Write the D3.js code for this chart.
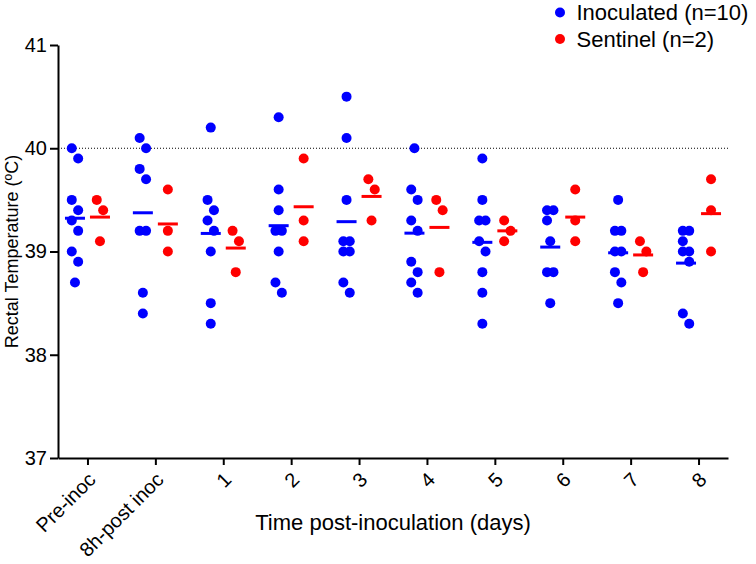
<!DOCTYPE html>
<html>
<head>
<meta charset="utf-8">
<script src="https://cdn.jsdelivr.net/npm/d3@7"></script>
<style>
    body { margin: 0; background: #fff; }
    svg { display: block; font-family: "Liberation Sans", Arial, sans-serif; }
</style>
</head>
<body>
<div id="chart"></div>
<script>
// time points on the x axis
const categories = ["Pre-inoc", "8h-post inoc", "1", "2", "3", "4", "5", "6", "7", "8"];

// rectal temperatures (ºC) per time point
const inoculated = [
    [40.0, 39.9, 39.5, 39.4, 39.3, 39.2, 39.0, 38.9, 38.7],
    [40.1, 40.0, 39.8, 39.7, 39.2, 39.2, 38.6, 38.4],
    [40.2, 39.5, 39.4, 39.3, 39.2, 39.0, 38.5, 38.3],
    [40.3, 39.6, 39.4, 39.2, 39.2, 39.0, 38.7, 38.6],
    [40.5, 40.1, 39.5, 39.1, 39.1, 39.0, 39.0, 38.7, 38.6],
    [40.0, 39.6, 39.5, 39.3, 39.2, 38.9, 38.8, 38.7, 38.6],
    [39.9, 39.5, 39.3, 39.3, 39.1, 39.0, 38.8, 38.6, 38.3],
    [39.4, 39.4, 39.3, 39.1, 38.8, 38.8, 38.5],
    [39.5, 39.2, 39.2, 39.0, 39.0, 38.8, 38.7, 38.5],
    [39.2, 39.2, 39.1, 39.0, 39.0, 38.9, 38.4, 38.3]
];

const sentinel = [
    [39.5, 39.4, 39.1],
    [39.6, 39.2, 39.0],
    [39.2, 39.1, 38.8],
    [39.9, 39.3, 39.1],
    [39.7, 39.6, 39.3],
    [39.5, 39.4, 38.8],
    [39.3, 39.2, 39.1],
    [39.6, 39.3, 39.1],
    [39.1, 39.0, 38.8],
    [39.7, 39.4, 39.0]
];

const yTicks = [37, 38, 39, 40, 41];
const refLine = 40;
const seriesNames = ["Inoculated (n=10)", "Sentinel (n=2)"];

const colors = ["#0000ff", "#ff0000"];
const width = 756, height = 564;
const margin = {top: 45, right: 28, bottom: 106, left: 58};
const r = 5;

let svg = d3.select("#chart").append("svg")
    .attr("width", width)
    .attr("height", height);

// scales
let x = d3.scalePoint()
    .domain(categories)
    .range([margin.left, width - margin.right])
    .padding(0.434);

let y = d3.scaleLinear()
    .domain([37, 41])
    .range([height - margin.bottom, margin.top]);

// dotted reference line at 40
svg.append("line")
    .attr("x1", margin.left)
    .attr("x2", width - margin.right)
    .attr("y1", y(refLine))
    .attr("y2", y(refLine))
    .attr("stroke", "#000")
    .attr("stroke-width", 1.2)
    .attr("stroke-dasharray", "1,2");

// axes
let yAxis = svg.append("g")
    .attr("transform", "translate(" + margin.left + ",0)")
    .call(d3.axisLeft(y).tickValues(yTicks).tickFormat(d3.format("d"))
        .tickSize(8).tickSizeOuter(0).tickPadding(3));

yAxis.selectAll("text")
    .attr("font-size", 20)
    .attr("fill", "#000")
    .attr("font-family", "Liberation Sans, Arial, sans-serif");

let xAxis = svg.append("g")
    .attr("transform", "translate(0," + y(37) + ")")
    .call(d3.axisBottom(x).tickSize(7).tickSizeOuter(0));

xAxis.selectAll("text")
    .attr("x", 0)
    .attr("y", 0)
    .attr("dy", "0.35em")
    .attr("text-anchor", "end")
    .attr("transform", "translate(4,18) rotate(-45)")
    .attr("font-size", 20)
    .attr("fill", "#000")
    .attr("font-family", "Liberation Sans, Arial, sans-serif");

svg.selectAll(".domain, .tick line")
    .attr("stroke", "#000")
    .attr("stroke-width", 2);

// spread close points sideways, alternating left/right within a run
function spread(values) {
    let sorted = values.slice().sort((a, b) => b - a);
    let out = [];
    let side = -1;
    let prev = null;
    sorted.forEach((v, i) => {
        let next = sorted[i + 1];
        let closePrev = prev !== null && Math.abs(y(prev) - y(v)) < 2 * r + 1;
        let closeNext = next !== undefined && Math.abs(y(next) - y(v)) < 2 * r + 1;
        let dx = 0;
        if (closePrev || closeNext) {
            if (!closePrev) side = -1;
            dx = side * 3.2;
            side = -side;
        }
        out.push({value: v, dx: dx});
        prev = v;
    });
    return out;
}

let groups = [inoculated, sentinel];
let offsets = [-12.5, 12.5];

groups.forEach((series, s) => {
    let g = svg.append("g").attr("class", "series-" + s);

    categories.forEach((c, i) => {
        let cx = x(c) + offsets[s];

        g.selectAll(".pt-" + i)
            .data(spread(series[i]))
            .enter()
            .append("circle")
            .attr("cx", d => cx + d.dx)
            .attr("cy", d => y(d.value))
            .attr("r", r)
            .attr("fill", colors[s]);

        // mean line
        let m = d3.mean(series[i]);
        g.append("line")
            .attr("x1", cx - 10)
            .attr("x2", cx + 10)
            .attr("y1", y(m))
            .attr("y2", y(m))
            .attr("stroke", colors[s])
            .attr("stroke-width", 3);
    });
});

// axis titles
svg.append("text")
    .attr("x", (margin.left + width - margin.right) / 2)
    .attr("y", 530)
    .attr("text-anchor", "middle")
    .attr("font-size", 22)
    .text("Time post-inoculation (days)");

svg.append("text")
    .attr("transform", "translate(18," + ((y(37) + y(41)) / 2) + ") rotate(-90)")
    .attr("text-anchor", "middle")
    .attr("font-size", 18)
    .text("Rectal Temperature (ºC)");

// legend
let legend = svg.append("g");
seriesNames.forEach((name, i) => {
    legend.append("circle")
        .attr("cx", 560)
        .attr("cy", 12.5 + i * 26.5)
        .attr("r", r)
        .attr("fill", colors[i]);
    legend.append("text")
        .attr("x", 576.5)
        .attr("y", 20 + i * 26.5)
        .attr("font-size", 22)
        .text(name);
});
</script>
</body>
</html>
